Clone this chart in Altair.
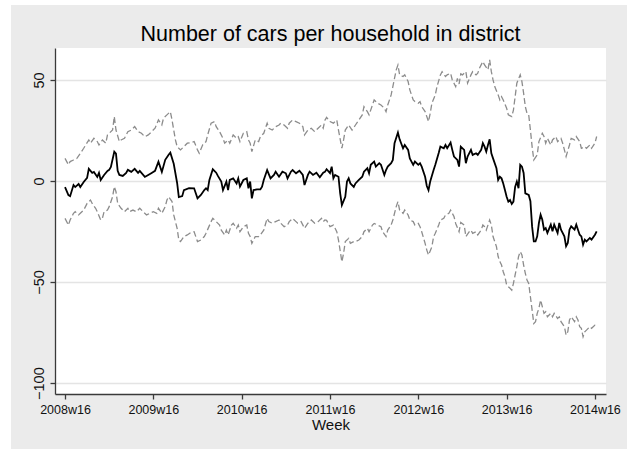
import json

import altair as alt
import pandas as pd

FONT = "Liberation Sans"
TITLE = "Number of cars per household in district"

# (week index from 2008w16, value) for the point estimate
mid = [
    (0, -3), (2, -7), (3, -7.5), (5, -2), (6, -3), (8, -1.5), (9, -3), (11, -0.5), (13, 1.5), (14, 6),
    (16, 4), (17, 4.5), (19, 2), (20, 4), (21, 0.5), (23, 3), (25, 5), (26, 5.5), (27, 7), (29, 14.5),
    (30, 13.5), (31, 5), (32, 3), (34, 2.5), (36, 4), (37, 5.5), (39, 4.5), (41, 6), (43, 4), (44, 5),
    (47, 2), (49, 3), (51, 4), (53, 5), (55, 9.5), (57, 4.5), (59, 10.5), (61, 13), (62, 14), (64, 8.5),
    (66, -1), (67, -8), (69, -7.5), (70, -4.5), (73, -3.5), (76, -3.6), (78, -8.6), (80, -6.9), (82, -4.5), (83, -3.6),
    (84, -4.5), (85, 0.5), (87, 5.8), (89, 4.1), (90, 2.5), (92, -0.3), (93, -4.5), (95, -0.3), (96, -4.5), (97, 0.5),
    (99, 1.3), (101, -1.2), (102, 1.3), (103, -2.8), (105, 0.5), (107, 1.3), (108, -3.6), (109, -0.3), (110, -8.6), (111, -4.5),
    (113, -4.2), (115, -4.2), (116, -2.8), (117, 0.5), (119, 5.4), (121, 1.3), (123, 3.0), (124, 4.6), (126, 2.1), (128, 4.6),
    (130, 3.8), (131, 1.3), (133, 4.6), (134, 5.4), (136, 3.8), (138, 5.1), (140, 3.0), (141, -2.0), (143, 3.0), (144, 4.6),
    (146, 3.0), (148, 4.1), (150, 1.8), (152, 4.1), (153, 4.5), (154, 5.8), (156, 3.9), (157, 7.1), (158, 1.3), (159, 3.0),
    (161, 2.1), (162, -6.1), (163, -11.9), (165, -7.8), (166, -0.3), (167, 1.3), (168, -1.2), (170, -2.9), (171, -1.2), (173, 0.5),
    (175, 2.1), (176, 4.6), (178, 6.3), (179, 3.8), (180, 8.0), (182, 9.6), (183, 7.1), (185, 8.8), (186, 8.0), (188, 3.0),
    (189, 5.4), (190, 7.1), (192, 8.8), (193, 10.4), (194, 18.7), (196, 24.0), (197, 20.6), (199, 16.2), (200, 17.8), (202, 15.4),
    (203, 11.2), (205, 8.0), (206, 9.6), (208, 8.0), (209, 8.8), (210, 7.1), (212, 2.1), (213, -2.5), (214, -4.5), (215, -0.3),
    (217, 5.4), (218, 8.0), (220, 13.8), (221, 17.0), (223, 16.2), (224, 17.8), (225, 16.2), (227, 19.0), (228, 15.4), (229, 12.1),
    (231, 10.4), (232, 7.1), (233, 17.0), (235, 15.4), (236, 8.8), (237, 12.1), (239, 15.4), (240, 12.9), (242, 13.7), (243, 12.9),
    (245, 15.4), (246, 18.7), (247, 17.0), (248, 14.5), (249, 17.8), (250, 20.6), (251, 13.7), (252, 11.2), (254, 6.3), (255, 0.5),
    (256, 2.1), (257, 1.3), (258, -1.2), (259, -4.5), (260, -7.8), (261, -10.2), (262, -9.4), (263, -11.4), (264, -10.2), (265, -2.9),
    (266, -0.3), (267, -3.6), (268, 8.0), (269, 7.1), (270, 4.0), (271, -6.1), (273, -6.9), (274, -10.0), (275, -22.6), (276, -29.9),
    (277, -29.9), (278, -27.4), (279, -20.8), (280, -16.7), (281, -19.2), (282, -24.1), (283, -23.3), (284, -25.7), (286, -21.6), (287, -24.9),
    (288, -21.6), (290, -25.7), (291, -20.8), (292, -24.1), (294, -27.4), (295, -32.3), (296, -30.7), (297, -24.1), (298, -22.4), (300, -24.1),
    (301, -21.6), (302, -24.1), (303, -26.6), (304, -27.4), (305, -31.5), (306, -29.0), (307, -29.9), (309, -28.2), (310, -29.0), (312, -26.6),
    (313, -24.9),
]

# upper confidence bound
upper = [
    (0, 11.2), (2, 8.0), (3, 9.6), (5, 10.4), (7, 11.2), (9, 13.7), (11, 16.2), (14, 20.3), (15, 18.7), (17, 21.1),
    (19, 19.5), (20, 17.8), (22, 20.3), (24, 18.7), (25, 22.8), (28, 25.2), (29, 31.9), (30, 25.2), (32, 19.5), (33, 20.3),
    (35, 21.1), (37, 24.4), (39, 25.2), (41, 26.9), (43, 24.4), (45, 23.6), (47, 21.9), (49, 22.8), (51, 24.4), (53, 26.1),
    (55, 30.2), (57, 27.7), (58, 31.1), (60, 32.7), (62, 34.3), (63, 30.2), (65, 20.3), (66, 17.0), (68, 15.4), (70, 17.0),
    (72, 18.7), (74, 19.0), (76, 19.5), (78, 15.4), (79, 13.7), (81, 17.8), (83, 19.5), (84, 22.8), (86, 28.6), (88, 29.4),
    (89, 26.9), (91, 24.4), (93, 21.1), (94, 18.7), (96, 20.3), (97, 18.7), (99, 22.8), (101, 21.1), (102, 21.9), (103, 19.5),
    (105, 23.6), (107, 24.4), (108, 20.3), (109, 18.7), (110, 14.5), (112, 20.3), (114, 19.5), (115, 21.9), (117, 23.6), (119, 28.6),
    (120, 26.1), (122, 25.2), (124, 26.9), (126, 27.7), (127, 28.6), (129, 27.7), (131, 26.1), (132, 28.6), (134, 30.2), (136, 29.4),
    (138, 28.6), (140, 26.9), (141, 22.8), (143, 25.2), (145, 26.1), (147, 24.4), (149, 26.1), (151, 27.7), (152, 26.1), (153, 30.0),
    (154, 31.5), (156, 29.4), (158, 28.6), (159, 29.4), (160, 30.2), (161, 25.2), (163, 16.2), (164, 20.3), (165, 25.2), (167, 27.7),
    (169, 25.2), (171, 27.7), (173, 30.2), (175, 32.7), (176, 36.8), (178, 34.3), (179, 32.7), (181, 37.6), (182, 40.1), (184, 38.5),
    (186, 37.6), (188, 36.0), (189, 34.3), (190, 37.6), (192, 42.6), (193, 46.7), (195, 55.0), (196, 57.4), (197, 52.5), (199, 51.7),
    (200, 52.5), (202, 49.2), (203, 45.1), (205, 40.1), (206, 39.3), (208, 38.5), (209, 39.3), (210, 36.8), (212, 34.3), (214, 29.4),
    (215, 33.5), (216, 38.5), (218, 42.6), (219, 46.7), (221, 52.5), (222, 54.1), (224, 51.7), (225, 52.5), (227, 53.3), (228, 50.0),
    (230, 46.7), (231, 50.8), (232, 48.0), (233, 53.0), (234, 52.5), (236, 54.1), (237, 48.4), (239, 52.5), (240, 54.1), (242, 52.5),
    (243, 53.3), (244, 55.8), (246, 59.1), (247, 57.4), (249, 55.0), (250, 59.9), (251, 54.1), (252, 50.0), (253, 46.7), (255, 42.6),
    (256, 40.1), (257, 41.7), (258, 40.1), (260, 36.0), (261, 32.7), (263, 31.9), (264, 35.1), (265, 41.7), (266, 48.4), (268, 52.5),
    (269, 49.2), (270, 43.4), (271, 36.8), (272, 33.5), (273, 32.7), (274, 25.2), (275, 17.0), (276, 10.4), (278, 12.9), (279, 19.5),
    (281, 23.6), (282, 22.0), (283, 18.7), (284, 21.1), (286, 17.8), (287, 20.3), (289, 22.0), (290, 19.5), (292, 21.1), (293, 18.7),
    (294, 15.4), (295, 12.1), (297, 17.8), (298, 21.1), (300, 20.3), (301, 22.0), (303, 19.5), (304, 16.2), (306, 17.0), (307, 16.2),
    (309, 17.8), (310, 16.2), (312, 18.7), (313, 22.0),
]

# lower confidence bound
lower = [
    (0, -18.5), (2, -21.8), (3, -19.3), (5, -16.0), (6, -15.2), (8, -16.8), (9, -16.0), (11, -14.4), (13, -11.1), (15, -9.4),
    (16, -11.1), (18, -13.5), (19, -15.2), (21, -19.3), (22, -18.5), (23, -15.2), (25, -14.4), (26, -12.7), (28, -7.8), (29, -2.8),
    (30, -5.3), (31, -11.1), (33, -13.5), (35, -15.2), (37, -13.5), (38, -15.2), (40, -14.4), (42, -15.2), (44, -13.5), (46, -15.2),
    (48, -16.8), (50, -16.0), (52, -15.2), (54, -16.0), (55, -13.5), (57, -16.0), (59, -12.7), (60, -9.4), (61, -7.8), (63, -10.2),
    (64, -16.8), (66, -23.4), (67, -29.2), (68, -30.0), (70, -27.5), (72, -26.7), (74, -25.5), (76, -25.1), (78, -30.0), (80, -29.2),
    (82, -27.5), (83, -25.9), (86, -20.1), (87, -18.5), (89, -20.1), (91, -21.8), (92, -24.3), (94, -26.7), (95, -24.3), (96, -26.7),
    (98, -21.8), (99, -20.9), (101, -23.4), (102, -21.8), (103, -25.1), (105, -22.6), (107, -21.8), (108, -25.9), (109, -27.5), (110, -30.9),
    (112, -27.5), (114, -27.5), (115, -26.7), (117, -24.3), (119, -18.5), (120, -20.1), (122, -20.9), (124, -20.1), (126, -19.3), (127, -20.9),
    (129, -22.6), (131, -21.8), (132, -20.1), (134, -18.5), (136, -20.1), (137, -20.9), (139, -20.1), (141, -23.4), (143, -20.9), (145, -19.3),
    (147, -20.9), (149, -20.1), (151, -18.5), (152, -20.1), (153, -19.3), (154, -19.5), (155, -21.0), (156, -22.6), (158, -21.8), (159, -23.4),
    (160, -25.1), (161, -29.2), (163, -40.0), (164, -35.8), (165, -30.0), (167, -28.4), (168, -30.9), (170, -30.0), (171, -30.0), (173, -29.2),
    (175, -27.5), (176, -25.1), (178, -23.4), (179, -25.1), (181, -21.8), (182, -21.0), (184, -21.8), (186, -22.6), (187, -25.1), (189, -27.5),
    (190, -24.3), (192, -21.8), (193, -19.3), (195, -12.7), (196, -10.2), (197, -14.4), (199, -16.0), (200, -14.4), (202, -16.8), (203, -19.3),
    (205, -20.1), (206, -21.8), (208, -21.0), (209, -22.6), (210, -25.1), (212, -30.9), (213, -34.2), (214, -36.6), (216, -32.5), (217, -27.5),
    (218, -25.9), (220, -21.8), (221, -19.3), (223, -18.5), (224, -16.8), (226, -16.0), (227, -14.4), (229, -17.6), (230, -21.0), (232, -25.1),
    (233, -20.5), (235, -21.8), (236, -27.5), (238, -25.1), (239, -24.3), (240, -25.9), (242, -25.1), (243, -26.7), (245, -24.3), (246, -21.8),
    (247, -22.6), (248, -24.3), (250, -19.3), (251, -21.8), (252, -27.5), (254, -32.5), (255, -37.4), (256, -39.9), (257, -41.6), (258, -44.9),
    (259, -47.3), (260, -51.5), (261, -52.3), (262, -53.1), (263, -54.0), (264, -50.7), (265, -46.5), (266, -42.4), (267, -37.4), (268, -35.0),
    (269, -36.6), (270, -41.6), (271, -45.7), (272, -49.0), (273, -50.7), (274, -57.3), (275, -63.9), (276, -70.5), (277, -69.6), (278, -65.5),
    (279, -63.0), (280, -58.9), (281, -62.2), (282, -65.5), (283, -64.7), (284, -67.2), (286, -65.5), (287, -67.2), (288, -65.5), (290, -68.0),
    (291, -67.2), (292, -69.6), (294, -72.1), (295, -76.2), (296, -74.6), (297, -68.8), (298, -67.2), (300, -69.6), (301, -67.2), (302, -68.8),
    (303, -72.1), (304, -72.9), (305, -77.1), (306, -74.6), (307, -73.8), (309, -72.1), (310, -72.9), (312, -71.3), (313, -71.3),
]

tick_weeks = [0, 52, 104, 156, 208, 260, 312]
tick_labels = ["2008w16", "2009w16", "2010w16", "2011w16", "2012w16", "2013w16", "2014w16"]
y_ticks = [-100, -50, 0, 50]


def frame(pairs, name):
    return pd.DataFrame(
        {"week": [p[0] for p in pairs], "cars": [p[1] for p in pairs], "series": name}
    )


bands = pd.concat([frame(upper, "upper"), frame(lower, "lower")], ignore_index=True)
centre = frame(mid, "estimate")

label_expr = json.dumps(tick_labels) + "[round(datum.value / 52)]"

AXIS_COLOR = "#3a3a3a"
TEXT_COLOR = "#111111"

x_enc = alt.X(
    "week:Q",
    title="Week",
    scale=alt.Scale(domain=[-5.9, 318.5], nice=False, zero=False),
    axis=alt.Axis(
        values=tick_weeks,
        labelExpr=label_expr,
        grid=False,
        labelFlush=False,
        domainColor=AXIS_COLOR,
        domainWidth=1.3,
        tickColor=AXIS_COLOR,
        tickWidth=1.3,
        tickSize=5,
        labelFont=FONT,
        labelFontSize=12.5,
        labelColor=TEXT_COLOR,
        labelPadding=4,
        titleFont=FONT,
        titleFontSize=15,
        titleFontWeight="normal",
        titleColor=TEXT_COLOR,
        titlePadding=2,
    ),
)

y_enc = alt.Y(
    "cars:Q",
    title=None,
    scale=alt.Scale(domain=[-105.4, 65.8], nice=False, zero=False),
    axis=alt.Axis(
        values=y_ticks,
        grid=True,
        gridColor="#E4E4E4",
        gridWidth=1.5,
        labelAngle=270,
        labelAlign="center",
        labelBaseline="alphabetic",
        labelFlush=False,
        domainColor=AXIS_COLOR,
        domainWidth=1.3,
        tickColor=AXIS_COLOR,
        tickWidth=1.3,
        tickSize=5,
        labelFont=FONT,
        labelFontSize=14.5,
        labelColor=TEXT_COLOR,
        labelPadding=7,
    ),
)

# white margin strips along the left and top edges of the page
strip_data = alt.Data(values=[{}])
left_strip = alt.Chart(strip_data).mark_rect(color="white").encode(
    x=alt.value(-55), x2=alt.value(-44), y=alt.value(-48), y2=alt.value(401)
)
top_strip = alt.Chart(strip_data).mark_rect(color="white").encode(
    x=alt.value(-55), x2=alt.value(572), y=alt.value(-48), y2=alt.value(-43)
)

band_lines = alt.Chart(bands).mark_line(
    color="#8C8C8C", strokeWidth=1.3, strokeDash=[6, 3]
).encode(x=x_enc, y=y_enc, detail="series:N", order="week:Q")

centre_line = alt.Chart(centre).mark_line(
    color="#000000", strokeWidth=1.8
).encode(x=x_enc, y=y_enc, order="week:Q")

# the title is laid out above the strip layer's bounds, so dy brings its
# baseline back down to just above the plot area
chart = (
    alt.layer(left_strip, top_strip, band_lines, centre_line)
    .properties(
        width=551,
        height=346,
        padding={"left": 55, "top": 48, "right": 21, "bottom": 55},
        autosize=alt.AutoSizeParams(type="none"),
        background="#EBEBEB",
        title=alt.TitleParams(
            TITLE,
            font=FONT,
            fontSize=21.5,
            fontWeight="normal",
            color="#000000",
            anchor="middle",
            frame="group",
            baseline="alphabetic",
            offset=0,
            dy=62,
        ),
    )
    .configure_view(fill="white", strokeWidth=0)
)

chart.save("out.html", embed_options={"renderer": "svg", "actions": False})
